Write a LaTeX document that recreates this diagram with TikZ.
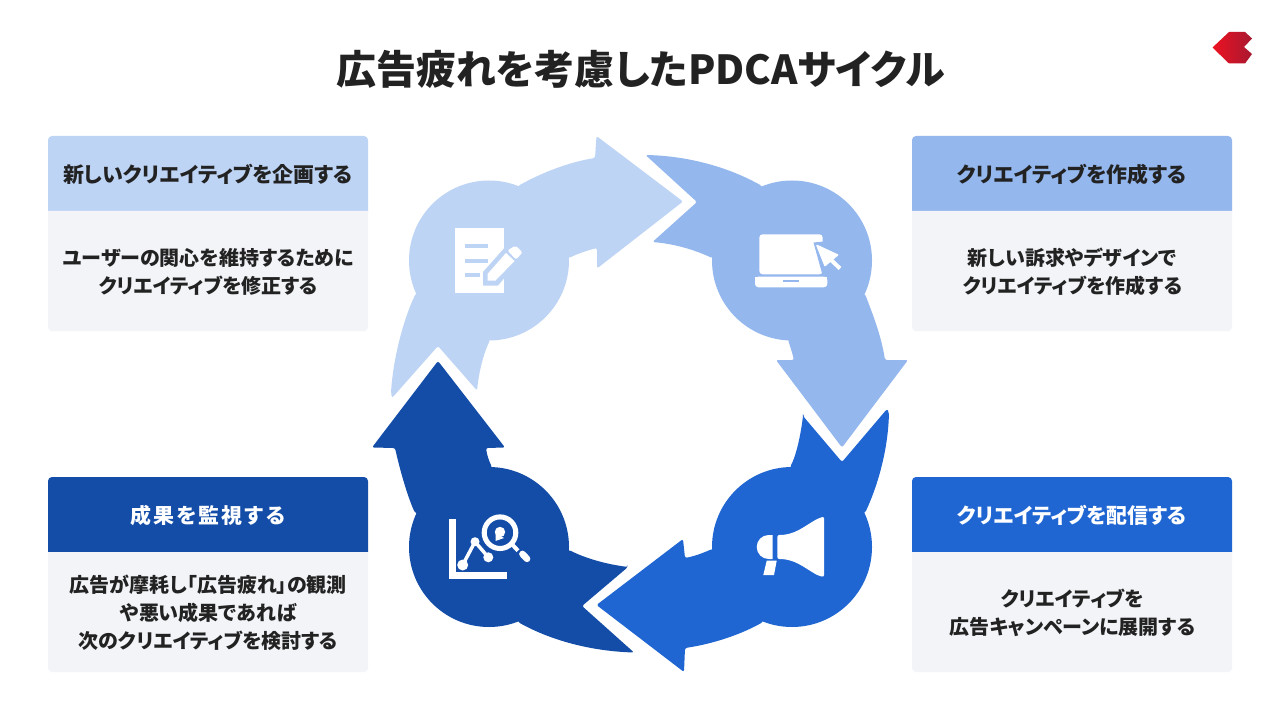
\documentclass[tikz,border=0pt]{standalone}
\usepackage{fontspec}
\newfontfamily\jp{Noto Sans CJK JP}[RawFeature=+palt]
\definecolor{cL}{HTML}{BED4F5}
\definecolor{cM}{HTML}{94B7EE}
\definecolor{cB}{HTML}{2066D2}
\definecolor{cD}{HTML}{134DA8}
\definecolor{card}{HTML}{F2F4F8}
\definecolor{ink}{HTML}{222222}
\definecolor{logoA}{HTML}{EC1222}
\definecolor{logoB}{HTML}{A81830}
\tikzset{
  titlefont/.style={font=\jp\bfseries\fontsize{30}{36}\selectfont,text=ink},
  headtext/.style={font=\jp\bfseries\fontsize{15.7}{21}\selectfont,text=ink,inner sep=0pt},
  headwhite/.style={headtext,text=white},
  bodytext/.style={font=\jp\bfseries\fontsize{15}{21}\selectfont,text=ink,align=center,inner sep=0pt},
  arrowshape/.style={rounded corners=1.6pt},
}
\newcommand{\cardbg}[4]{% x, top, bottom, colour
  \pgfmathsetmacro{\xr}{#1+320}\pgfmathsetmacro{\ym}{#2+75}
  \fill[#4] (#1,\ym) [rounded corners=3pt] -- (#1,#2) -- (\xr,#2) [sharp corners] -- (\xr,\ym) -- cycle;
  \fill[card] (#1,\ym) -- (\xr,\ym) [rounded corners=3pt] -- (\xr,#3) -- (#1,#3) [sharp corners] -- cycle;
}
\begin{document}
\begin{tikzpicture}[x=0.75pt,y=-0.75pt]
\useasboundingbox (0,0) rectangle (1280,720);
\fill[white] (0,0) rectangle (1280,720);
\node[titlefont] (title) at (640.5,69) {広告疲れを考慮したPDCAサイクル};

% logo
\shade[left color=logoA,right color=logoB] (1212.5,47.5) -- (1229,32) -- (1245,32) -- (1252,38.5) -- (1244,47) -- (1252,54) -- (1245,63.5) -- (1229,63.5) -- cycle;

% cards
\cardbg{48}{136}{331}{cL}
\cardbg{912}{136}{331}{cM}
\cardbg{48}{477}{672}{cD}
\cardbg{912}{477}{672}{cB}
\node[headtext] (h1) at (208,174.7) {新しいクリエイティブを企画する};
\node[bodytext] (b1) at (208.3,271.8) {ユーザーの関心を維持するために\\クリエイティブを修正する};
\node[headtext] (h2) at (1072,174.7) {クリエイティブを作成する};
\node[bodytext] (b2) at (1072.4,271.8) {新しい訴求やデザインで\\クリエイティブを作成する};
\node[headwhite] (h3) at (1072,515.7) {クリエイティブを配信する};
\node[bodytext] (b3) at (1072.4,612.8) {クリエイティブを\\広告キャンペーンに展開する};
\node[headwhite,font=\jp\bfseries\fontsize{15.7}{21}\selectfont\addfontfeature{LetterSpace=10}] (h4) at (208,515.7) {成果を監視する};
\node[bodytext] (b4) at (208.3,612.8) {広告が摩耗し「広告疲れ」の観測\\や悪い成果であれば\\次のクリエイティブを検討する};

% arrow 1
\fill[cL] (489,260.5) circle[radius=80];
\fill[cL,arrowshape] (518,186) .. controls (543,172) and (570,162) .. (595,158) -- (596.5,136) -- (683,201.5) -- (597,268.5) -- (597,248) .. controls (585,251) and (575,255) .. (569,258) -- (489,260) -- (490,340) .. controls (483,355) and (479,372) .. (477,390.5) -- (438,346) -- (392,398) -- (391,393) .. controls (393,360) and (403,320) .. (416,293) -- (489,260) -- cycle;
% arrow 2
\fill[cM] (792,260.5) circle[radius=80];
\fill[cM,arrowshape] (645.5,155) .. controls (690,156) and (730,168) .. (762,186) -- (792,260) -- (865,294) .. controls (873,315) and (881,335) .. (885,360) -- (908,360) -- (842,447.5) -- (776,360) -- (794,360) .. controls (792,352) and (790,346) .. (788,340) -- (792,260) -- (712,258) .. controls (695,250) and (675,244) .. (652.5,242) -- (697,202) -- cycle;
% arrow 3
\fill[cB] (792,547) circle[radius=80];
\fill[cB,arrowshape] (803,416) -- (842,462) -- (887,409) -- (889,412) .. controls (888,450) and (878,485) .. (865,513) -- (792,547) -- (763,622) .. controls (740,635) and (712,644) .. (685,648) -- (684,672) -- (596.5,605) -- (683,539) -- (685,558) .. controls (695,556) and (703,553) .. (712,549) -- (792,547) -- (790,467) .. controls (795,458) and (800,440) .. (803,416) -- cycle;
% arrow 4
\fill[cD] (489,547) circle[radius=80];
\fill[cD,arrowshape] (628,567) -- (582,606) -- (634,652.5) .. controls (590,651) and (550,640) .. (518,622) -- (489,547) -- (415,513) .. controls (407,495) and (400,470) .. (395,448) -- (372,447.5) -- (438,361) -- (505,447.5) -- (486,448) .. controls (487,455) and (489,461) .. (492,467) -- (489,547) -- (569,550) .. controls (585,558) and (605,564) .. (628,567) -- cycle;

% icon: document + pencil
\fill[white] (455,228) rectangle (504,293);
\draw[cL,line width=2.6pt] (465,246) -- (488,246) (465,261) -- (488,261) (465,275) -- (480,275);
\fill[cL] (483,272) -- (507,245) -- (520,260) -- (498,285.5) -- (483,285.5) -- cycle;
\fill[white] (487.5,274) -- (506,253) -- (514.5,261) -- (495.5,280.5) -- (487.5,280.5) -- cycle;
\fill[white,rounded corners=1.5pt] (507.5,250.5) -- (515.5,245.5) -- (522.5,252.5) -- (516,259.5) -- cycle;

% icon: laptop + cursor
\fill[white,rounded corners=2.5pt] (759.3,234.3) -- (822.7,234.3) -- (822.7,274.3) -- (759.3,274.3) -- cycle;
\fill[white,rounded corners=2.5pt] (755,276.7) -- (827.3,276.7) -- (827.3,287.3) -- (755,287.3) -- cycle;
\fill[white] (755,276.7) rectangle (827.3,281);
\draw[cM,line width=1.5pt] (783,280.8) -- (799,280.8);
\fill[cM] (824,241.5) -- (813.5,242.5) -- (822.5,275) -- (829,275) -- (842,258) -- cycle;
\filldraw[white,draw=white,line join=round,line width=1.2pt] (817,245.5) -- (837.5,255) -- (825,265.5) -- cycle;
\draw[white,line width=3pt] (829,258) -- (840,268.5);

% icon: megaphone
\fill[white,rounded corners=1.5pt] (777.3,535) .. controls (795,535) and (803,527) .. (818,518.5) -- (824,516.5) -- (824,577) -- (818,575.5) .. controls (803,567) and (795,559) .. (777.3,559) -- cycle;
\fill[white] (772.7,535) -- (768.7,535) arc[start angle=270,end angle=90,radius=12] -- (772.7,559) -- cycle;
\fill[white] (766.7,560.7) -- (776.7,560.7) -- (774,575) -- (763.3,575) -- cycle;

% icon: chart + magnifier
\draw[white,line width=5pt] (452.3,519) -- (452.3,575.7) -- (506.7,575.7);
\draw[white,line width=2.6pt] (462.7,565) -- (475,541.7) -- (488.3,557.3);
\fill[white] (462.7,565) circle[radius=5.5] (475,541.7) circle[radius=4.5] (488.3,557.3) circle[radius=5];
\draw[white,line width=3.8pt] (500,532.7) circle[radius=15.8];
\fill[white] (500,532) circle[radius=5.2];
\fill[white] (495.5,541) -- (495.5,533) -- (504,538) -- cycle;
\draw[white,line width=3pt] (512.7,545) -- (518,550.7);
\draw[white,line width=5pt,line cap=round] (522.5,554) -- (527,558.8);
\end{tikzpicture}
\end{document}
